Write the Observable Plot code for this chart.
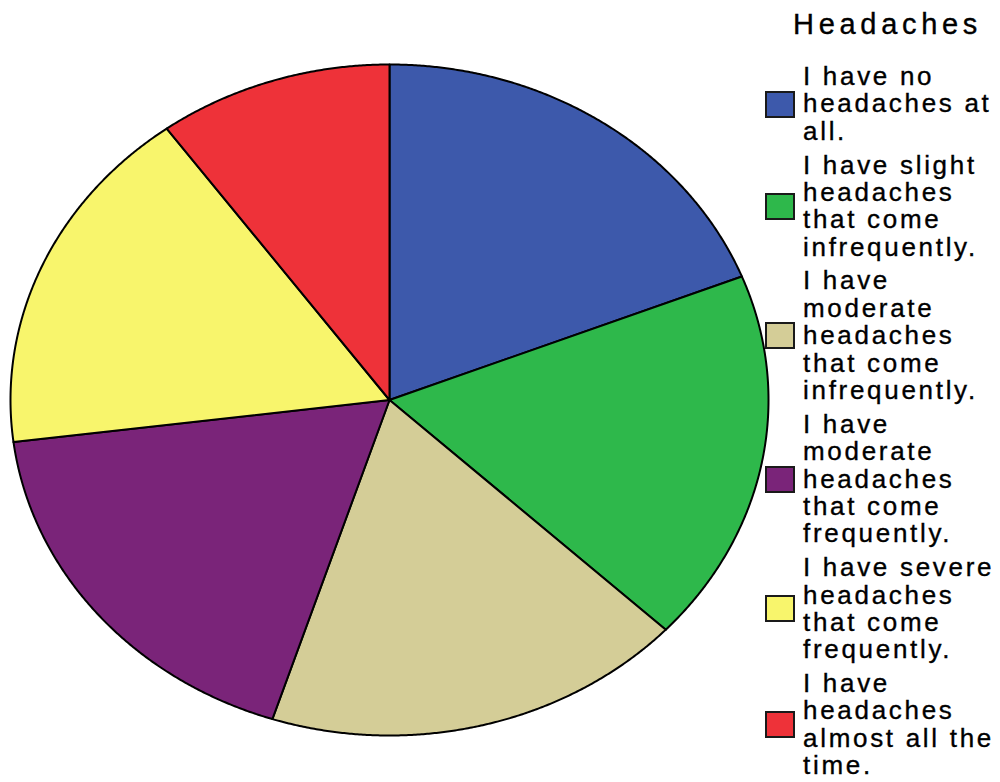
<!DOCTYPE html>
<html><head><meta charset="utf-8">
<script src="https://cdn.jsdelivr.net/npm/d3@7"></script>
<script src="https://cdn.jsdelivr.net/npm/@observablehq/plot@0.6"></script>
<style>
body{margin:0;background:#fff;}
#wrap{position:relative;width:1000px;height:782px;overflow:hidden;}
#chart svg{display:block;}
.lg{position:absolute;font-family:"Liberation Sans",Arial,sans-serif;color:#000;-webkit-text-stroke:0.35px #000;}
#ltitle{left:793px;top:9.5px;font-size:29px;line-height:29px;letter-spacing:4.7px;white-space:nowrap;}
#litems{left:765px;top:63px;}
.item{display:flex;align-items:center;margin-bottom:6.3px;}
.sw{width:30px;height:27px;box-sizing:border-box;border:2px solid #1a1a1a;flex:none;}
.txt{margin-left:8px;font-size:26px;line-height:27.4px;letter-spacing:2.7px;white-space:pre;}
</style></head><body>
<div id="wrap"><div id="chart"></div><div id="ltitle" class="lg"></div><div id="litems" class="lg"></div></div>
<script>
const legendTitle = "Headaches";
const categories = [
  "I have no\nheadaches at\nall.",
  "I have slight\nheadaches\nthat come\ninfrequently.",
  "I have\nmoderate\nheadaches\nthat come\ninfrequently.",
  "I have\nmoderate\nheadaches\nthat come\nfrequently.",
  "I have severe\nheadaches\nthat come\nfrequently.",
  "I have\nheadaches\nalmost all the\ntime."
];
const values = [19, 18, 18, 18, 17, 10];
const colors = ["#3d59ab", "#2eb84b", "#d4cd97", "#7a2479", "#f8f56c", "#ee3239"];

const slices = d3.pie().sort(null).value(d => d)(values);
const pts = [];
slices.forEach((s, i) => {
  const k = categories[i];
  const n = Math.max(2, Math.ceil((s.endAngle - s.startAngle) / 0.005));
  pts.push({k, x: 0, y: 0});
  for (let j = 0; j <= n; j++) {
    const a = s.startAngle + (s.endAngle - s.startAngle) * j / n;
    pts.push({k, x: Math.sin(a), y: Math.cos(a)});
  }
  pts.push({k, x: 0, y: 0});
});

const chart = Plot.plot({
  width: 1000, height: 782, margin: 0,
  x: {domain: [-1, 1], range: [10, 768], axis: null},
  y: {domain: [-1, 1], range: [735, 64], axis: null},
  color: {domain: categories, range: colors},
  marks: [
    Plot.line(pts, {x: "x", y: "y", z: "k", fill: "k", stroke: "#000", strokeWidth: 2, strokeLinejoin: "round", curve: "linear"})
  ]
});
document.getElementById("chart").appendChild(chart);

document.getElementById("ltitle").textContent = legendTitle;
const li = document.getElementById("litems");
categories.forEach((c, i) => {
  const it = document.createElement("div"); it.className = "item";
  const sw = document.createElement("div"); sw.className = "sw"; sw.style.background = colors[i];
  const tx = document.createElement("div"); tx.className = "txt"; tx.textContent = c;
  it.appendChild(sw); it.appendChild(tx); li.appendChild(it);
});
</script>
</body></html>
